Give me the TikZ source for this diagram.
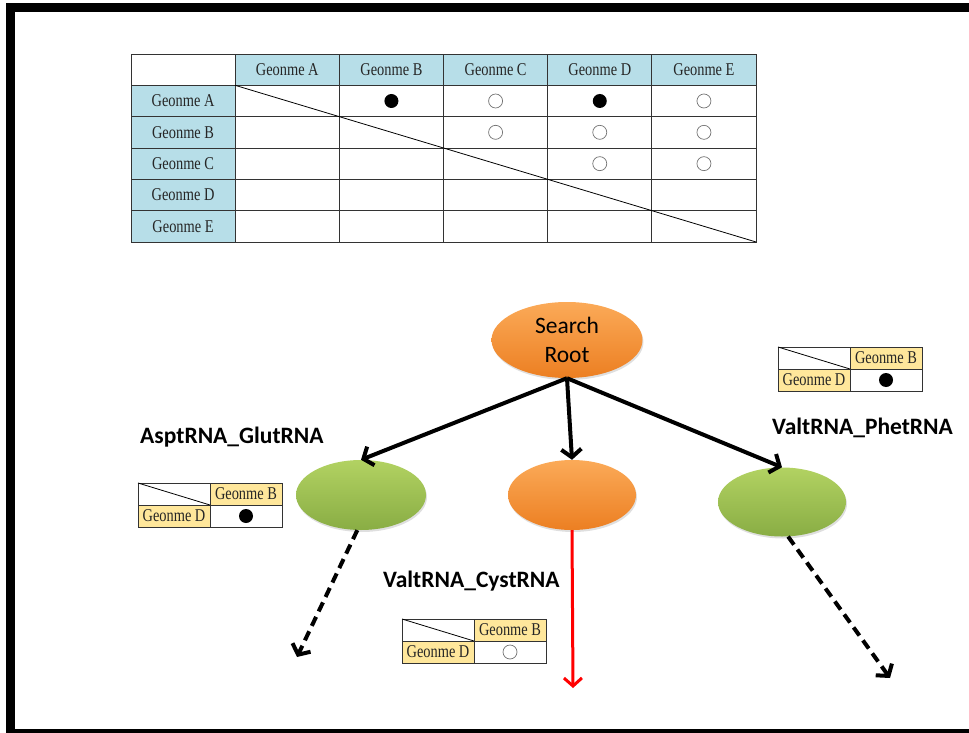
\documentclass[tikz,border=0pt]{standalone}
\usepackage{fontspec}
\setmainfont{Liberation Serif}
\newfontfamily\labfont{Carlito}
\newfontfamily\tabfont[FakeStretch=0.8]{Liberation Serif}
\usetikzlibrary{arrows.meta,shadows,shapes.geometric}

\definecolor{hdrblue}{HTML}{B7DEE8}
\definecolor{hdryel}{HTML}{FFE79B}
\definecolor{orTop}{HTML}{FBAA58}
\definecolor{orBot}{HTML}{EC7F22}
\definecolor{grTop}{HTML}{B2D262}
\definecolor{grBot}{HTML}{89AD44}
\definecolor{gridc}{HTML}{333333}

\tikzset{
  bigcell/.style={draw=gridc,line width=0.8pt,minimum width=104.17pt,minimum height=31.33pt,
    inner sep=0pt,outer sep=0pt,anchor=north west,font=\tabfont\fontsize{18}{20}\selectfont,text=black!85},
  smallcell/.style={draw=gridc,line width=0.8pt,minimum width=72pt,minimum height=22pt,
    inner sep=0pt,outer sep=0pt,anchor=north west,font=\tabfont\fontsize{18}{20}\selectfont,text=black!85},
  fdot/.style={circle,fill=black,minimum size=14pt,inner sep=0pt},
  odot/.style={circle,draw=black!55,fill=white,line width=0.7pt,minimum size=14pt,inner sep=0pt},
  orangeball/.style={ellipse,shading=axis,top color=orTop,bottom color=orBot,
    drop shadow={opacity=0.25,shadow xshift=1pt,shadow yshift=-2pt}},
  greenball/.style={ellipse,shading=axis,top color=grTop,bottom color=grBot,
    drop shadow={opacity=0.25,shadow xshift=1pt,shadow yshift=-2pt}},
  treearrow/.style={line width=4pt,-{Straight Barb[length=8pt,width=20pt]}},
  pathlabel/.style={font=\labfont\bfseries\fontsize{23.5}{26}\selectfont,inner sep=0pt}
}

% 2x2 pair table: #1 prefix, #2 left x, #3 top y, #4 symbol style
\newcommand\pairtab[4]{%
  \node[smallcell] (#1c) at (#2,#3) {};
  \node[smallcell,fill=hdryel] (#1b) at (#2+72,#3) {Geonme B};
  \node[smallcell,fill=hdryel] (#1d) at (#2,#3+22) {Geonme D};
  \node[smallcell] (#1v) at (#2+72,#3+22) {};
  \draw[line width=0.8pt] (#1c.north west) -- (#1c.south east);
  \node[#4] (#1s) at (#1v.center) {};
}

\begin{document}
\begin{tikzpicture}[x=1pt,y=-1pt]
\useasboundingbox (0,0) rectangle (969,733);

% page frame
\fill[black] (6,3) rectangle (969,12);
\fill[black] (6,3) rectangle (15,733);
\fill[black] (6,729) rectangle (969,733);

% pairwise genome table
\node[bigcell] (t00) at (131,54) {};
\foreach \n [count=\j] in {A,B,C,D,E} {
  \node[bigcell,fill=hdrblue] (t0\j) at (131+104.17*\j,54) {Geonme \n};
  \node[bigcell,fill=hdrblue] (t\j0) at (131,54+31.33*\j) {Geonme \n};
}
\foreach \i in {1,...,5} {
  \foreach \j in {1,...,5} {
    \node[bigcell] (t\i\j) at (131+104.17*\j,54+31.33*\i) {};
  }
}
\draw[line width=0.8pt] (t11.north west) -- (t55.south east);
\node[fdot] (sAB) at (t12.center) {};
\node[odot] (sAC) at (t13.center) {};
\node[fdot] (sAD) at (t14.center) {};
\node[odot] (sAE) at (t15.center) {};
\node[odot] (sBC) at (t23.center) {};
\node[odot] (sBD) at (t24.center) {};
\node[odot] (sBE) at (t25.center) {};
\node[odot] (sCD) at (t34.center) {};
\node[odot] (sCE) at (t35.center) {};

% search tree
\node[orangeball,minimum width=151pt,minimum height=76pt,align=center,
      font=\labfont\fontsize{23.5}{29}\selectfont] (root) at (567,340) {Search\\Root};
\node[greenball,minimum width=130pt,minimum height=70pt] (left) at (361,495) {};
\node[orangeball,minimum width=128pt,minimum height=70pt] (mid) at (572,495) {};
\node[greenball,minimum width=128pt,minimum height=69pt] (right) at (782,502) {};

\coordinate (leftEnd) at (297,657);
\coordinate (midEnd) at (573,688);
\coordinate (rightEnd) at (890,678);

\draw[treearrow] (root.south) -- (left.north);
\draw[treearrow] (root.south) -- (mid.north);
\draw[treearrow] (root.south) -- (right.north);
\draw[treearrow,dash pattern=on 10pt off 6pt] (left.-96) -- (leftEnd);
\draw[treearrow,dash pattern=on 10pt off 6pt] (right.-80) -- (rightEnd);
\draw[line width=3pt,red,-{Straight Barb[length=8pt,width=18pt]}] (mid.south) -- (midEnd);

% branch labels
\node[pathlabel,anchor=west] (labA) at (140,437) {AsptRNA\_GlutRNA};
\node[pathlabel,anchor=west] (labP) at (772,428) {ValtRNA\_PhetRNA};
\node[pathlabel,anchor=west] (labC) at (383,581) {ValtRNA\_CystRNA};

% pair tables for each branch
\pairtab{pl}{138}{483}{fdot}
\pairtab{pr}{778}{347}{fdot}
\pairtab{pm}{402}{619}{odot}
\end{tikzpicture}
\end{document}
